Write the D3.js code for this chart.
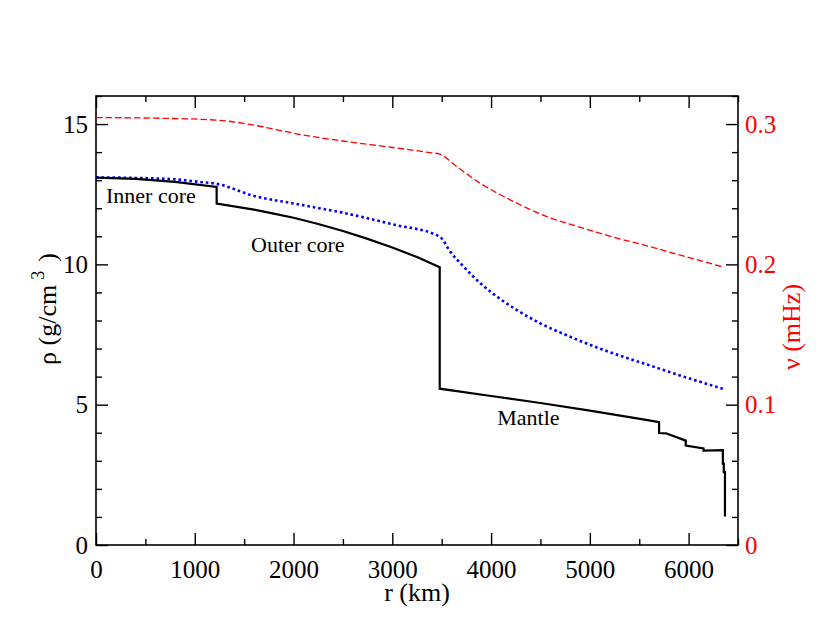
<!DOCTYPE html>
<html>
<head>
<meta charset="utf-8">
<script src="https://cdn.jsdelivr.net/npm/d3@7"></script>
<style>
  body { margin: 0; background: #fff; }
  svg, svg text { font-family: "Times New Roman", Times, "Liberation Serif", serif; }
</style>
</head>
<body>
<div id="chart"></div>
<script>
// density profile, black solid (g/cm^3)
const rhoR = [0, 400, 800, 1221.5, 1221.5, 1600, 1800, 2000, 2250, 2500, 2750, 3000, 3250, 3480, 3480, 4000, 4500, 5000, 5600, 5701,
  5701, 5771, 5971, 5971, 6151, 6151, 6346.6, 6346.6, 6356, 6356, 6368, 6368];
const rhoVal = [13.09, 13.05, 12.94, 12.76, 12.17, 11.95, 11.81, 11.66, 11.44, 11.19, 10.91, 10.60, 10.26, 9.90, 5.57, 5.31, 5.06, 4.79, 4.44, 4.38,
  3.99, 3.98, 3.72, 3.54, 3.44, 3.36, 3.38, 2.90, 2.90, 2.60, 2.60, 1.02];

// blue dotted curve (left axis units)
const blueR = [0, 400, 800, 1020, 1221, 1600, 2000, 2500, 3000, 3479, 3587, 3722, 3891, 4060, 4262, 4498, 4802, 5140, 5545, 5950, 6360];
const blueVal = [13.10, 13.08, 13.03, 12.95, 12.87, 12.44, 12.17, 11.84, 11.43, 10.99, 10.45, 9.92, 9.33, 8.85, 8.37, 7.90, 7.42, 6.95, 6.47, 6.00, 5.55];

// red dashed curve, frequency (mHz, right axis)
const nuR = [0, 600, 1221, 2200, 3384, 3479, 3654, 3891, 4228, 4566, 4904, 5241, 5579, 5917, 6356];
const nuVal = [0.3046, 0.3042, 0.3028, 0.2910, 0.2796, 0.2786, 0.2696, 0.2578, 0.2448, 0.2340, 0.2264, 0.2194, 0.2132, 0.2066, 0.1980];

const xTicks = [0, 1000, 2000, 3000, 4000, 5000, 6000];
const yTicks = [0, 5, 10, 15];
const nuTicks = [0, 0.1, 0.2, 0.3];

const regionNames = ['Inner core', 'Outer core', 'Mantle'];
const regionR = [101, 1570, 4063];
const regionRho = [12.19, 10.45, 4.28];

const W = 830, H = 642;
const margin = {top: 96, right: 92, bottom: 97, left: 96};
const width = W - margin.left - margin.right;
const height = H - margin.top - margin.bottom;
const serif = '"Times New Roman", Times, "Liberation Serif", serif';

const svg = d3.select('#chart').append('svg')
  .attr('width', W)
  .attr('height', H)
  .attr('font-family', serif);

const g = svg.append('g')
  .attr('transform', `translate(${margin.left},${margin.top})`);

const x = d3.scaleLinear().domain([0, 6500]).range([0, width]);
const y = d3.scaleLinear().domain([0, 16]).range([height, 0]);
const yNu = d3.scaleLinear().domain([0, 0.32]).range([height, 0]);

// minor ticks
const minorX = d3.range(0, 6501, 500).filter(d => d % 1000 !== 0);
const minorY = d3.range(0, 16.01, 1).filter(d => d % 5 !== 0);
const minorNu = d3.range(0, 0.3201, 0.02).filter(d => Math.abs(d * 10 - Math.round(d * 10)) > 1e-6);

function styleAxis(sel, color) {
  sel.attr('font-family', serif).attr('font-size', 25);
  sel.select('.domain').remove();
  sel.selectAll('line').attr('stroke', '#000').attr('stroke-width', 1.4);
  sel.selectAll('text').attr('fill', color);
}

// bottom
g.append('g').attr('transform', `translate(0,${height})`)
  .call(d3.axisBottom(x).tickValues(xTicks).tickSize(-12).tickPadding(15).tickFormat(d3.format('d')))
  .call(s => styleAxis(s, '#000'));
g.append('g').attr('transform', `translate(0,${height})`)
  .call(d3.axisBottom(x).tickValues(minorX).tickSize(-6).tickFormat(''))
  .call(s => styleAxis(s, '#000'));
// top
g.append('g')
  .call(d3.axisTop(x).tickValues(xTicks).tickSize(-12).tickFormat(''))
  .call(s => styleAxis(s, '#000'));
g.append('g')
  .call(d3.axisTop(x).tickValues(minorX).tickSize(-6).tickFormat(''))
  .call(s => styleAxis(s, '#000'));
// left
g.append('g')
  .call(d3.axisLeft(y).tickValues(yTicks).tickSize(-12).tickPadding(8).tickFormat(d3.format('d')))
  .call(s => styleAxis(s, '#000'));
g.append('g')
  .call(d3.axisLeft(y).tickValues(minorY).tickSize(-6).tickFormat(''))
  .call(s => styleAxis(s, '#000'));
// right
g.append('g').attr('transform', `translate(${width},0)`)
  .call(d3.axisRight(yNu).tickValues(nuTicks).tickSize(-12).tickPadding(7).tickFormat(d => d === 0 ? '0' : d3.format('.1f')(d)))
  .call(s => styleAxis(s, '#ff0000'));
g.append('g').attr('transform', `translate(${width},0)`)
  .call(d3.axisRight(yNu).tickValues(minorNu).tickSize(-6).tickFormat(''))
  .call(s => styleAxis(s, '#ff0000'));

// frame
g.append('rect')
  .attr('x', 0).attr('y', 0)
  .attr('width', width).attr('height', height)
  .attr('fill', 'none')
  .attr('stroke', '#000')
  .attr('stroke-width', 1.6);

// curves
const lineRho = d3.line().x((d, i) => x(rhoR[i])).y(d => y(d));
const lineBlue = d3.line().x((d, i) => x(blueR[i])).y(d => y(d)).curve(d3.curveMonotoneX);
const lineNu = d3.line().x((d, i) => x(nuR[i])).y(d => yNu(d)).curve(d3.curveMonotoneX);

g.append('path').datum(nuVal)
  .attr('d', lineNu)
  .attr('fill', 'none')
  .attr('stroke', '#ff0000')
  .attr('stroke-width', 1.3)
  .attr('stroke-dasharray', '6.5 3');

g.append('path').datum(blueVal)
  .attr('d', lineBlue)
  .attr('fill', 'none')
  .attr('stroke', '#0000ff')
  .attr('stroke-width', 2.6)
  .attr('stroke-dasharray', '2.6 2.9');

g.append('path').datum(rhoVal)
  .attr('d', lineRho)
  .attr('fill', 'none')
  .attr('stroke', '#000')
  .attr('stroke-width', 2.2)
  .attr('stroke-linejoin', 'miter');

// region labels
g.selectAll('.region')
  .data(regionNames)
  .join('text')
  .attr('class', 'region')
  .attr('x', (d, i) => x(regionR[i]))
  .attr('y', (d, i) => y(regionRho[i]))
  .attr('font-size', 22)
  .text(d => d);

// axis titles
svg.append('text')
  .attr('x', 417).attr('y', 601)
  .attr('text-anchor', 'middle')
  .attr('font-size', 26)
  .text('r (km)');

const yTitle = svg.append('text')
  .attr('transform', 'translate(56,309) rotate(-90)')
  .attr('text-anchor', 'middle')
  .attr('font-size', 26);
yTitle.append('tspan').text('ρ (g/cm');
yTitle.append('tspan').attr('font-size', 18).attr('dy', -12).attr('dx', 5).text('3');
yTitle.append('tspan').attr('dy', 12).attr('dx', 9).text(')');

svg.append('text')
  .attr('transform', 'translate(800,327) rotate(-90)')
  .attr('text-anchor', 'middle')
  .attr('font-size', 26)
  .attr('fill', '#ff0000')
  .text('ν (mHz)');
</script>
</body>
</html>
